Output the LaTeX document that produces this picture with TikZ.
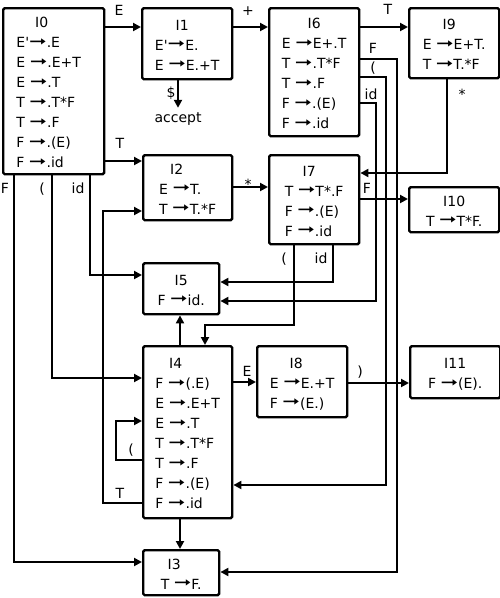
\documentclass[tikz,border=0pt]{standalone}
\usepackage{fontspec}
\usepackage{graphicx}
\setmainfont{DejaVu Sans}[Ligatures=TeXOff]
\usetikzlibrary{arrows.meta}

% item set: title row (pushed left by #1), items left aligned
\newcommand{\lrset}[3][0pt]{\begin{tabular}{@{}l@{}}\multicolumn{1}{@{}c@{}}{\rule{0pt}{19pt}#2\rule{#1}{0pt}}\\#3\end{tabular}}
\newcommand{\prd}{\raisebox{1.5pt}{\scalebox{1.5}[1.05]{➞}}}

\tikzset{
  state/.style={draw, line width=2.4pt, rounded corners=1.5pt, anchor=north west,
    inner sep=0pt, font=\fontsize{14}{20}\selectfont},
  conn/.style={line width=2pt, -{Triangle[length=8pt,width=8pt]}},
  lbl/.style={font=\fontsize{14}{16}\selectfont, inner sep=0pt, text height=10pt, text depth=0pt},
}

\begin{document}
\begin{tikzpicture}[x=1pt, y=-1pt]
\useasboundingbox (0,0) rectangle (500,598);

% states
\node[state, minimum width=101pt, minimum height=166pt] (I0) at (2,7)
  {\lrset[14pt]{I0}{E'\prd.E\\E \prd.E+T\\E \prd.T\\T \prd.T*F\\T \prd.F\\F \prd.(E)\\F \prd.id}\rule{10pt}{0pt}};
\node[state, minimum width=90pt, minimum height=71pt] (I1) at (141,7)
  {\lrset[10pt]{I1}{E'\prd E.\\E \prd E.+T}};
\node[state, minimum width=90pt, minimum height=128pt] (I6) at (268,7)
  {\lrset{I6}{E \prd E+.T\\T \prd.T*F\\T \prd.F\\F \prd.(E)\\F \prd.id}};
\node[state, minimum width=90pt, minimum height=70pt] (I9) at (408,7)
  {\lrset[10pt]{I9}{E \prd E+T.\\T \prd T.*F}};
\node[state, minimum width=89pt, minimum height=64pt] (I2) at (142,154)
  {\lrset[22pt]{I2}{E \prd T.\\T \prd T.*F}};
\node[state, minimum width=90pt, minimum height=89pt] (I7) at (268,154)
  {\lrset[10pt]{I7}{T \prd T*.F\\F \prd.(E)\\F \prd.id}};
\node[state, minimum width=90pt, minimum height=44pt] (I10) at (408,186)
  {\lrset{I10}{T \prd T*F.}};
\node[state, minimum width=76pt, minimum height=51pt] (I5) at (142,262)
  {\lrset{I5}{F \prd id.}};
\node[state, minimum width=89pt, minimum height=172pt] (I4) at (142,345)
  {\lrset[24pt]{I4}{F \prd(.E)\\E \prd.E+T\\E \prd.T\\T \prd.T*F\\T \prd.F\\F \prd.(E)\\F \prd.id}};
\node[state, minimum width=90pt, minimum height=71pt] (I8) at (256,345)
  {\lrset[12pt]{I8}{E \prd E.+T\\F \prd(E.)}};
\node[state, minimum width=90pt, minimum height=52pt] (I11) at (409,345)
  {\lrset{I11}{F \prd(E).}};
\node[state, minimum width=76pt, minimum height=45pt] (I3) at (142,549)
  {\lrset[14pt]{I3}{T \prd F.}};
\node[lbl, inner sep=4pt] (accept) at (178,117) {accept};

% transition labels
\foreach \n/\x/\y/\t in {tE/119/10/E, tPlus/248/10/+, tT/388/9/T, tDollar/171/92/\$,
    tT2/120/143/T, tStar/248/184/*, tStar2/462/94/*, tF7/367/188/F,
    tF6/373/48/F, tPar6/373/67/{(}, tId6/371/94/id, tPar7/284/258/{(}, tId7/321/258/id,
    tF0/5/188/F, tPar0/42/188/{(}, tId0/78/188/id, tPar4/131/449/{(}, tT4/120/493/T,
    tE4/247/371/E, tRpar/360/371/{)}}
  \node[lbl] (\n) at (\x,\y) {\t};

% transitions
\draw[conn] (I0.east |- 0,27) -- (I1.west |- 0,27);
\draw[conn] (I1.east |- 0,27) -- (I6.west |- 0,27);
\draw[conn] (I6.east |- 0,27) -- (I9.west |- 0,27);
\draw[conn] (I1.south -| accept) -- (accept.north);
\draw[conn] (I0.east |- 0,161) -- (I2.west |- 0,161);
\draw[conn] (I2.east |- 0,187) -- (I7.west |- 0,187);
\draw[conn] (I9.south -| 447,0) |- (I7.east |- 0,173);
\draw[conn] (I7.east |- 0,199) -- (I10.west |- 0,199);
\draw[conn] (I6.east |- 0,59) -| (397,572) -- (I3.east |- 0,572);
\draw[conn] (I6.east |- 0,77) -| (386,485) -- (I4.east |- 0,485);
\draw[conn] (I6.east |- 0,103) -| (376,301) -- (I5.east |- 0,301);
\draw[conn] (I7.south -| 333,0) |- (I5.east |- 0,282);
\draw[conn] (I7.south -| 294,0) |- (205,325) -- (I4.north -| 205,0);
\draw[conn] (I0.south -| 14,0) |- (I3.west |- 0,562);
\draw[conn] (I0.south -| 52,0) |- (I4.west |- 0,378);
\draw[conn] (I0.south -| 90,0) |- (I5.west |- 0,275);
\draw[conn] (I4.north -| 180,0) -- (I5.south -| 180,0);
\draw[conn] (I4.south -| 180,0) -- (I3.north -| 180,0);
\draw[conn] (I4.west |- 0,460) -| (116,421) -- (I4.west |- 0,421);
\draw[conn] (I4.west |- 0,503) -| (103,211) -- (I2.west |- 0,211);
\draw[conn] (I4.east |- 0,382) -- (I8.west |- 0,382);
\draw[conn] (I8.east |- 0,383) -- (I11.west |- 0,383);
\end{tikzpicture}
\end{document}
